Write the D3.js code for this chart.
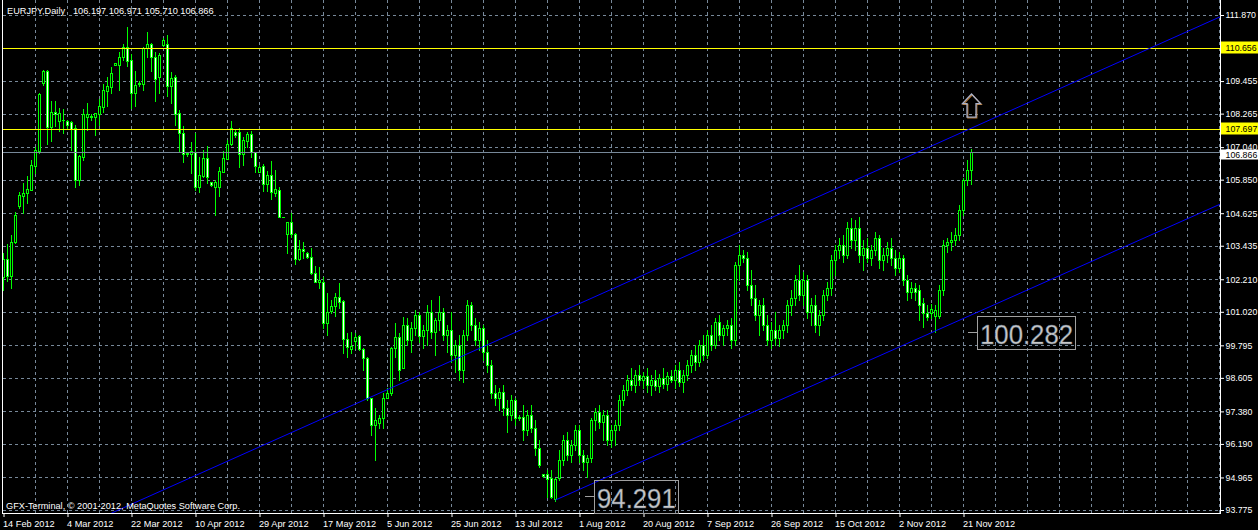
<!DOCTYPE html>
<html><head><meta charset="utf-8">
<script src="https://cdn.jsdelivr.net/npm/d3@7"></script>
<style>html,body{margin:0;padding:0;background:#000;overflow:hidden}svg{display:block}</style>
</head><body><svg id="c" width="1258" height="530"></svg>
<script>
// ---------------- data ----------------
const symbolName = "EURJPY,Daily";
const lastOHLC = ["106.197", "106.971", "105.710", "106.866"];
const copyright = "GFX-Terminal, \u00a9 2001-2012, MetaQuotes Software Corp.";

const open = [102.30,102.94,102.34,103.57,104.90,105.26,105.35,105.47,106.36,106.91,
109.37,109.82,107.79,108.32,108.01,108.04,108.00,107.97,107.73,105.84,
106.69,108.13,108.18,108.13,108.25,108.52,109.10,109.25,110.04,110.04,
110.32,110.69,110.23,109.01,109.34,109.34,110.65,110.81,110.32,109.59,
110.77,110.81,109.29,109.59,108.28,107.57,106.78,106.78,106.87,105.57,
105.98,106.63,105.75,105.60,105.59,106.14,106.62,107.14,107.59,107.58,
106.78,107.28,107.51,106.85,106.14,106.35,105.68,106.02,105.37,105.47,
104.49,103.85,104.29,103.85,102.95,103.30,103.16,103.01,102.43,102.12,
102.12,100.60,101.05,101.24,101.55,101.41,100.02,99.65,99.96,100.14,
99.65,99.32,97.86,96.88,96.94,97.13,97.88,98.04,99.69,100.09,
98.96,100.54,99.99,100.43,100.90,100.14,100.35,101.01,100.28,100.72,
101.01,100.17,100.35,99.44,99.81,98.89,100.17,101.27,100.54,99.99,
100.43,99.55,99.08,98.05,97.87,98.09,97.50,97.25,97.80,97.14,
97.17,96.70,97.25,96.77,96.04,95.09,95.09,94.94,94.18,94.94,
95.60,96.33,95.79,96.15,96.70,95.79,95.53,95.68,97.07,97.36,
96.99,97.25,96.33,96.70,96.88,97.80,98.16,98.53,98.34,98.71,
98.53,98.67,98.34,98.53,98.31,98.60,98.38,98.67,98.53,98.89,
98.45,98.71,99.08,99.44,99.18,99.81,99.44,100.17,99.81,100.65,
100.17,100.43,100.54,99.99,102.73,103.10,102.99,102.00,101.52,100.90,
101.27,100.54,99.99,100.35,100.06,100.35,100.54,101.27,101.52,102.18,
101.63,102.18,101.01,101.27,100.54,100.90,101.63,101.89,102.91,103.28,
103.46,103.10,104.08,103.65,104.08,103.10,103.35,102.99,103.28,103.72,
102.91,103.10,103.35,102.99,102.62,102.99,102.18,101.74,101.89,101.82,
101.34,100.98,100.98,100.87,100.87,101.82,103.46,103.57,103.65,103.83,
104.74,105.84,106.197];
const high = [103.17,103.50,103.83,104.67,105.41,105.73,105.98,106.57,107.06,109.03,
109.86,109.86,108.73,108.73,108.47,108.43,108.03,108.01,107.85,106.75,
108.42,108.64,108.25,108.28,108.80,109.35,109.59,109.98,110.13,110.53,
110.81,111.42,110.44,109.82,109.46,110.69,111.24,110.86,110.53,110.49,
111.02,111.14,109.80,109.68,108.40,107.81,106.87,107.24,107.55,106.69,
106.94,107.08,105.78,105.84,106.32,106.91,107.30,108.01,107.67,107.73,
107.40,107.60,107.63,106.87,106.39,106.42,106.17,106.53,106.20,105.57,
104.50,104.31,104.62,103.89,103.65,103.58,103.22,103.34,102.69,102.67,
102.30,101.70,101.45,101.72,102.08,101.45,100.26,100.29,100.23,100.17,
99.69,99.36,97.86,97.49,97.25,98.04,98.22,99.74,100.60,100.23,
100.84,100.79,100.65,101.09,101.01,100.54,101.27,101.45,100.79,101.60,
101.16,100.54,101.01,99.99,100.17,100.35,101.45,101.38,100.79,100.65,
100.54,99.99,99.26,98.34,98.23,98.34,97.80,97.98,97.87,97.25,
97.61,97.43,97.61,97.07,96.33,95.09,95.24,95.24,94.94,95.97,
96.52,96.63,96.33,96.88,96.88,95.97,95.79,97.14,97.50,97.61,
97.43,97.43,96.88,97.07,97.98,98.34,98.71,98.97,98.89,99.08,
98.82,98.97,98.71,98.89,98.75,98.97,98.82,98.89,99.08,99.18,
98.89,99.26,99.62,99.81,99.99,100.17,100.35,100.54,100.79,100.90,
100.54,100.72,100.79,102.84,103.46,103.28,103.21,102.55,102.00,101.45,
101.52,100.90,100.65,101.01,100.54,100.72,101.45,101.82,102.37,102.73,
102.48,102.37,101.52,101.63,101.09,101.82,102.11,103.10,103.46,103.72,
103.83,104.30,104.45,104.38,104.49,103.65,103.72,103.46,103.94,103.83,
103.35,103.57,103.72,103.28,103.21,103.10,102.37,102.11,102.07,102.00,
101.52,101.27,101.31,101.27,102.00,103.65,103.72,103.94,104.08,104.92,
105.91,106.57,106.971];
const low = [101.82,102.16,101.89,103.54,104.83,104.63,105.01,105.47,106.11,106.84,
109.31,107.15,107.28,107.81,107.64,107.56,107.74,106.94,105.59,105.66,
106.57,107.67,108.03,107.48,107.85,108.34,108.54,109.01,110.03,109.13,
110.23,110.02,108.46,108.54,109.27,109.13,110.32,109.83,108.74,109.01,
110.74,108.91,108.66,107.85,106.87,106.51,106.72,106.08,105.47,105.41,
105.94,105.72,105.62,104.56,105.25,106.14,106.60,107.12,107.42,106.30,
106.39,107.06,106.69,106.14,106.14,105.45,105.45,105.13,105.25,104.47,
104.47,103.18,103.77,102.77,102.91,102.98,103.00,102.40,102.10,101.88,
100.42,100.17,100.97,100.87,101.15,99.50,99.38,99.50,99.69,99.62,
98.89,97.80,96.52,95.60,96.76,96.76,97.86,97.98,99.38,98.53,
98.96,99.81,99.55,100.17,99.92,99.70,99.81,100.06,99.44,100.35,
99.99,99.55,99.18,98.82,98.53,98.45,99.99,100.35,99.81,99.62,
99.26,98.82,97.87,97.61,97.43,97.25,96.63,97.07,96.88,97.07,
96.33,96.52,96.63,95.79,95.35,94.98,94.25,94.21,94.12,94.87,
95.42,95.60,95.53,95.97,95.53,95.24,94.98,95.53,96.70,96.77,
96.33,96.15,96.08,96.15,96.70,97.61,97.98,98.16,98.09,98.34,
98.23,98.09,97.98,98.16,98.09,98.23,98.16,98.45,98.23,98.31,
98.09,98.53,98.82,98.89,99.04,99.26,99.33,99.62,99.70,99.99,
99.81,100.17,99.70,99.81,102.18,102.84,101.82,101.27,100.72,100.17,
100.35,99.81,99.70,99.81,99.77,100.06,100.28,100.90,101.27,101.45,
101.27,100.79,100.54,100.28,100.17,100.72,101.45,101.63,102.37,102.99,
102.84,102.99,103.35,103.28,102.84,102.55,102.84,102.73,103.10,102.62,
102.55,102.84,102.73,102.37,102.48,102.00,101.45,101.52,101.45,100.72,
100.46,100.72,100.79,100.28,100.79,101.63,103.21,103.28,103.46,103.65,
104.56,105.66,105.710];
const close = [102.95,102.33,103.56,104.56,105.29,105.36,105.51,106.39,106.94,108.98,
109.82,107.79,108.31,108.24,108.28,108.02,107.85,107.70,105.84,106.72,
108.25,108.24,108.14,108.27,108.54,109.13,109.27,109.74,110.12,110.32,
110.69,110.20,109.01,109.31,109.37,110.65,110.81,110.32,109.53,110.41,
110.96,109.29,109.56,108.25,107.57,106.78,106.81,106.90,105.59,106.02,
106.63,105.94,105.65,105.78,106.17,106.63,107.15,107.73,107.49,106.78,
107.30,107.52,106.85,106.36,106.30,105.68,106.02,105.39,105.50,104.48,
104.48,104.29,103.85,102.95,103.31,103.24,103.03,102.43,102.12,102.18,
100.60,101.02,101.24,101.55,101.39,100.02,99.74,99.77,100.11,99.65,
99.32,97.86,96.88,97.07,97.13,97.88,98.04,99.69,100.09,98.89,
100.54,99.99,100.43,100.90,100.14,100.35,101.01,100.28,100.72,101.01,
100.17,100.35,99.44,99.81,98.89,100.17,101.27,100.54,99.99,100.43,
99.55,99.08,98.05,97.87,98.09,97.50,97.25,97.80,97.14,97.17,
96.70,97.25,96.77,96.04,95.42,95.02,94.91,94.25,94.91,95.60,
96.33,95.79,96.15,96.70,95.79,95.53,95.68,97.07,97.36,96.99,
97.25,96.33,96.70,96.88,97.80,98.16,98.53,98.34,98.71,98.53,
98.67,98.34,98.53,98.31,98.60,98.38,98.67,98.53,98.89,98.45,
98.71,99.08,99.44,99.18,99.81,99.44,100.17,99.81,100.65,100.17,
100.43,100.54,99.99,102.73,103.10,102.99,102.00,101.52,100.90,101.27,
100.54,99.99,100.35,100.06,100.35,100.54,101.27,101.52,102.18,101.63,
102.18,101.01,101.27,100.54,100.90,101.63,101.89,102.91,103.28,103.46,
103.10,104.08,103.65,104.08,103.10,103.35,102.99,103.28,103.72,102.91,
103.10,103.35,102.99,102.62,102.99,102.18,101.74,101.89,101.74,101.27,
100.98,100.83,101.12,101.09,101.82,103.46,103.57,103.65,103.83,104.74,
105.84,106.20,106.866];

const dateLabels = ["14 Feb 2012","4 Mar 2012","22 Mar 2012","10 Apr 2012","29 Apr 2012",
"17 May 2012","5 Jun 2012","25 Jun 2012","13 Jul 2012","1 Aug 2012","20 Aug 2012",
"7 Sep 2012","26 Sep 2012","15 Oct 2012","2 Nov 2012","21 Nov 2012"];
const priceTicks = [111.870,110.660,109.455,108.265,107.040,105.850,104.625,103.435,
102.210,101.020,99.795,98.605,97.380,96.190,94.965,93.775];
const levelLines = [110.656, 107.697];
const bidPrice = 106.866;
const upperTrend = [[25, 93.53], [263, 109.11]];
const lowerTrend = [[138, 94.14], [256, 101.82]];
const priceLabelValues = [94.291, 100.282];
const priceLabelBars = [145.4, 241.1];
const arrowAnchor = [242, 108.98];

// ---------------- drawing ----------------
const W = 1258, H = 530;
const FONT = "'Liberation Sans', Arial, sans-serif";
const LIME = "#00ff00", GRID = "#778899";
const svg = d3.select("#c");
svg.append("rect").attr("width", W).attr("height", H).attr("fill", "#000");

const totalBars = 305;
const x = d3.scaleLinear().domain([0, totalBars - 1]).range([3.5, 3.5 + 4 * (totalBars - 1)]);
const y = d3.scaleLinear().domain([93.775, 111.870]).range([510, 15]);
const py = v => Math.round(y(v)) + 0.5;
const plotL = 2, plotR = 1220, plotB = 513;

svg.append("defs").append("clipPath").attr("id", "plotclip")
  .append("rect").attr("x", 3).attr("y", 0).attr("width", plotR - 3).attr("height", plotB);

// grid
const grid = svg.append("g").attr("stroke", GRID).attr("stroke-dasharray", "3,3")
  .attr("shape-rendering", "crispEdges");
priceTicks.forEach(t => grid.append("line").attr("x1", 3).attr("x2", plotR)
  .attr("y1", py(t)).attr("y2", py(t)));
d3.range(8, totalBars, 8).forEach(i => grid.append("line")
  .attr("x1", x(i)).attr("x2", x(i)).attr("y1", 0).attr("y2", plotB));

// candles
const cg = svg.append("g").attr("shape-rendering", "crispEdges");
open.forEach((o, i) => {
  const c = close[i], cx = x(i);
  const yh = Math.round(y(high[i])), yl = Math.round(y(low[i]));
  cg.append("line").attr("x1", cx).attr("x2", cx).attr("y1", yh).attr("y2", yl + 1)
    .attr("stroke", LIME);
  const top = Math.round(y(Math.max(o, c))), bot = Math.round(y(Math.min(o, c)));
  if (bot - top < 1) {
    cg.append("line").attr("x1", cx - 1.5).attr("x2", cx + 1.5)
      .attr("y1", top + 0.5).attr("y2", top + 0.5).attr("stroke", LIME);
  } else {
    cg.append("rect").attr("x", cx - 1).attr("y", top + 0.5).attr("width", 2)
      .attr("height", bot - top).attr("fill", c >= o ? "#000" : "#fff")
      .attr("stroke", LIME);
  }
});

// horizontal levels
const objs = svg.append("g").attr("clip-path", "url(#plotclip)").attr("shape-rendering", "crispEdges");
levelLines.forEach(v => objs.append("line").attr("x1", 3).attr("x2", plotR)
  .attr("y1", py(v)).attr("y2", py(v)).attr("stroke", "#ffff00"));
objs.append("line").attr("x1", 3).attr("x2", plotR).attr("y1", py(bidPrice)).attr("y2", py(bidPrice))
  .attr("stroke", GRID);

// trend lines (rays to the right)
const tl = svg.append("g").attr("clip-path", "url(#plotclip)");
[upperTrend, lowerTrend].forEach(([a, b]) => {
  const slope = (b[1] - a[1]) / (b[0] - a[0]);
  const endBar = totalBars;
  const pts = [a, [endBar, a[1] + slope * (endBar - a[0])]];
  tl.append("path").attr("d", d3.line().x(d => x(d[0])).y(d => y(d[1]))(pts))
    .attr("stroke", "#0000ff").attr("stroke-width", 1).attr("fill", "none");
});

// frame
const frame = svg.append("g").attr("stroke", "#fff").attr("shape-rendering", "crispEdges");
frame.append("line").attr("x1", plotL + 0.5).attr("x2", plotL + 0.5).attr("y1", 0).attr("y2", plotB + 1);
frame.append("line").attr("x1", plotR + 0.5).attr("x2", plotR + 0.5).attr("y1", 0).attr("y2", plotB + 1);
frame.append("line").attr("x1", plotL).attr("x2", plotR + 1).attr("y1", plotB + 0.5).attr("y2", plotB + 0.5);

// price axis
const AX_FONT = `8.8px ${FONT}`;
const yAxis = svg.append("g").attr("transform", `translate(${plotR + 1},0)`)
  .call(d3.axisRight(y).tickValues(priceTicks).tickSize(3).tickPadding(1.5).tickFormat(d3.format(".3f")));
yAxis.select(".domain").remove();
yAxis.selectAll("line").attr("stroke", "#fff");
yAxis.selectAll("text").attr("fill", "#fff").style("font", AX_FONT);

// time axis
const dateBars = dateLabels.map((d, i) => i * 16);
const xAxis = svg.append("g").attr("transform", `translate(0,${plotB + 1})`)
  .call(d3.axisBottom(x).tickValues(dateBars).tickSize(3).tickPadding(3)
    .tickFormat((d, i) => dateLabels[i]));
xAxis.select(".domain").remove();
xAxis.selectAll("line").attr("stroke", "#fff");
xAxis.selectAll("text").attr("fill", "#fff").attr("text-anchor", "start").attr("x", -1)
  .style("font", `9.2px ${FONT}`);

// right-side level tags
levelLines.forEach(v => {
  const yy = py(v);
  svg.append("rect").attr("x", plotR + 1).attr("y", yy - 7).attr("width", W - plotR).attr("height", 12)
    .attr("fill", "#ffff00");
  svg.append("text").attr("x", plotR + 5.5).attr("y", yy + 2.5).text(v.toFixed(3))
    .attr("fill", "#000").style("font", AX_FONT);
});
{
  const yy = py(bidPrice);
  svg.append("rect").attr("x", plotR + 1).attr("y", yy - 3).attr("width", W - plotR).attr("height", 10)
    .attr("fill", "#fff");
  svg.append("text").attr("x", plotR + 5.5).attr("y", yy + 5.5).text(bidPrice.toFixed(3))
    .attr("fill", "#000").style("font", AX_FONT);
}

// big price labels
priceLabelValues.forEach((v, i) => {
  const yy = py(v), x0 = Math.round(x(priceLabelBars[i]));
  const g = svg.append("g");
  g.append("line").attr("x1", x0).attr("x2", x0 + 9).attr("y1", yy).attr("y2", yy)
    .attr("stroke", "#a0a0a0").attr("shape-rendering", "crispEdges");
  const t = g.append("text").attr("x", 0).attr("y", 0).text(v.toFixed(3))
    .attr("fill", "#c8c8c8").attr("stroke", "#5a6b80").attr("stroke-width", 0.4)
    .style("font", `28px ${FONT}`)
    .attr("transform", `translate(${x0 + 12},${yy + 11}) scale(0.92,1)`);
  const tw = t.node().getComputedTextLength() * 0.92;
  g.insert("rect", "text").attr("x", x0 + 9.5).attr("y", yy - 16).attr("width", tw + 5).attr("height", 33)
    .attr("fill", "none").attr("stroke", "#a0a0a0").attr("shape-rendering", "crispEdges");
});

// up arrow
{
  const ax = x(arrowAnchor[0]), ay = y(arrowAnchor[1]);
  const shape = [[0,0],[9,9.5],[4.5,9.5],[4.5,23],[-4.5,23],[-4.5,9.5],[-9,9.5]];
  const ln = d3.line().x(d => ax + d[0]).y(d => ay + d[1]).curve(d3.curveLinearClosed);
  svg.append("path").attr("d", ln(shape.map(d => [d[0] + 0.8, d[1] + 0.8])))
    .attr("fill", "none").attr("stroke", "#b87830").attr("stroke-width", 1.2);
  svg.append("path").attr("d", ln(shape)).attr("fill", "none")
    .attr("stroke", "#a8b0c8").attr("stroke-width", 1.3);
}

// header & footer text
const title = svg.append("text").attr("x", 7).attr("y", 14).attr("fill", "#fff").style("font", `9.2px ${FONT}`);
title.append("tspan").text(symbolName);
title.append("tspan").attr("x", 73).text(lastOHLC.join(" "));
svg.append("text").attr("x", 6).attr("y", 509).attr("fill", "#fff").style("font", `9.2px ${FONT}`)
  .text(copyright);
</script></body></html>
